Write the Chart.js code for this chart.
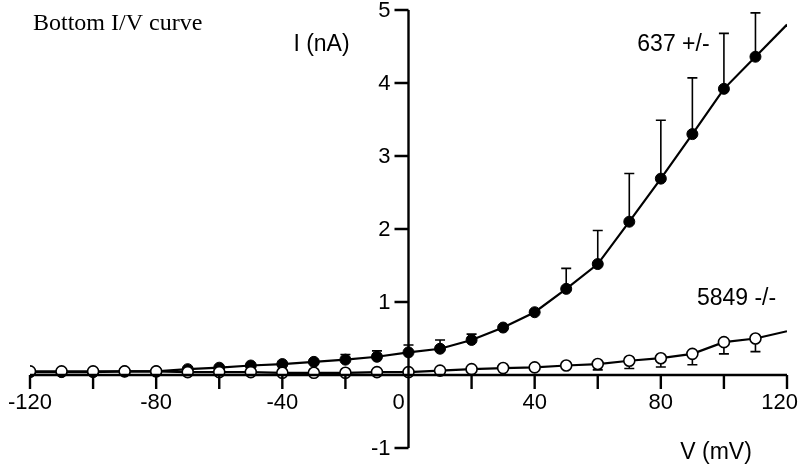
<!DOCTYPE html>
<html><head><meta charset="utf-8">
<script src="https://cdn.jsdelivr.net/npm/chart.js@4/dist/chart.umd.min.js"></script>
<style>html,body{margin:0;padding:0;background:#fff}#wrap{width:800px;height:468px}</style>
</head><body><div id="wrap"><canvas id="c" width="800" height="468"></canvas></div>
<script>
// ---- data ----
const voltage    = [-120,-110,-100,-90,-80,-70,-60,-50,-40,-30,-20,-10,0,10,20,30,40,50,60,70,80,90,100,110];
const currentHet = [0.04,0.04,0.04,0.05,0.05,0.08,0.10,0.13,0.15,0.18,0.21,0.25,0.31,0.36,0.48,0.65,0.86,1.18,1.52,2.10,2.69,3.30,3.92,4.36];
const errorHet   = [0,0,0,0,0,0,0,0,0,0.02,0.07,0.08,0.10,0.12,0.08,0,0,0.28,0.46,0.66,0.80,0.77,0.76,0.60];
const currentKO  = [0.05,0.05,0.05,0.05,0.05,0.04,0.04,0.04,0.03,0.03,0.03,0.04,0.04,0.06,0.08,0.095,0.105,0.13,0.15,0.195,0.23,0.29,0.45,0.50];
const errorKO    = [0,0,0,0,0,0,0,0,0,0,0,0,0,0,0,0,0,0,0.08,0.105,0.12,0.15,0.16,0.18];
const tailV      = [110,120];
const tailHet    = [4.36,4.80];
const tailKO     = [0.50,0.60];
const xTicks     = [-120,-100,-80,-60,-40,-20,0,20,40,60,80,100,120];
const xTickLabels= ['-120','','-80','','-40','','0','','40','','80','','120'];
const yTicks     = [-1,0,1,2,3,4,5];
const yTickLabels= ['-1','','1','2','3','4','5'];
const seriesNames= ['637 +/-','5849 -/-'];

const pts = (xs, ys) => xs.map((v,i)=>({x:v, y:ys[i]}));
const SANS = "'Liberation Sans', Arial, sans-serif";
const SERIF = "'Liberation Serif', 'Times New Roman', serif";

const overlay = {
  id:'overlay',
  afterDatasetsDraw(chart){
    const {ctx, scales:{x,y}} = chart;
    const x0 = x.getPixelForValue(0), y0 = y.getPixelForValue(0);
    ctx.save();
    ctx.strokeStyle = '#000'; ctx.fillStyle = '#000';
    // error bars
    ctx.lineWidth = 1.6;
    const cap = 5, r = 5.5;
    voltage.forEach((v,i)=>{
      const px = x.getPixelForValue(v);
      if (errorHet[i] > 0) {
        const pc = y.getPixelForValue(currentHet[i]);
        const pt = y.getPixelForValue(currentHet[i] + errorHet[i]);
        ctx.beginPath(); ctx.moveTo(px, pc); ctx.lineTo(px, pt);
        ctx.moveTo(px-cap, pt); ctx.lineTo(px+cap, pt); ctx.stroke();
      }
      if (errorKO[i] > 0) {
        const pc = y.getPixelForValue(currentKO[i]);
        const pb = y.getPixelForValue(currentKO[i] - errorKO[i]);
        ctx.beginPath(); ctx.moveTo(px, pc + r); ctx.lineTo(px, pb);
        ctx.moveTo(px-cap, pb); ctx.lineTo(px+cap, pb); ctx.stroke();
      }
    });
    // axes
    ctx.lineWidth = 2.4;
    ctx.beginPath();
    ctx.moveTo(x.getPixelForValue(xTicks[0]), y0); ctx.lineTo(x.getPixelForValue(xTicks[xTicks.length-1]), y0);
    ctx.moveTo(x0, y.getPixelForValue(yTicks[0])); ctx.lineTo(x0, y.getPixelForValue(yTicks[yTicks.length-1]));
    xTicks.forEach(v=>{ const px = x.getPixelForValue(v); ctx.moveTo(px, y0); ctx.lineTo(px, y0+14); });
    yTicks.forEach(v=>{ if (v===0) return; const py = y.getPixelForValue(v); ctx.moveTo(x0-14, py); ctx.lineTo(x0, py); });
    ctx.stroke();
    // tick labels
    ctx.font = '22px ' + SANS;
    ctx.textBaseline = 'middle';
    ctx.textAlign = 'center';
    xTicks.forEach((v,i)=>{
      const t = xTickLabels[i]; if (!t) return;
      let px = x.getPixelForValue(v);
      if (v === 0) px -= 10;
      const w = ctx.measureText(t).width;
      px = Math.max(w/2 + 2, Math.min(chart.width - w/2 - 2, px));
      ctx.fillText(t, px, y0 + 28);
    });
    ctx.textAlign = 'right';
    yTicks.forEach((v,i)=>{
      const t = yTickLabels[i]; if (!t) return;
      ctx.fillText(t, x0 - 18, y.getPixelForValue(v) + 1);
    });
    // axis titles & series labels
    ctx.font = '23px ' + SANS;
    ctx.textAlign = 'center';
    ctx.fillText('I (nA)', x0 - 87, y.getPixelForValue(4.53));
    ctx.fillText('V (mV)', x.getPixelForValue(97.5), y.getPixelForValue(-1.06));
    ctx.fillText(seriesNames[0], x.getPixelForValue(84), y.getPixelForValue(4.52));
    ctx.fillText(seriesNames[1], x.getPixelForValue(104), y.getPixelForValue(1.05));
    ctx.font = '24px ' + SERIF;
    ctx.textAlign = 'left';
    ctx.textBaseline = 'alphabetic';
    ctx.fillText('Bottom I/V curve', 33, 30);
    ctx.restore();
  }
};

new Chart(document.getElementById('c'), {
  type: 'scatter',
  data: {
    datasets: [
      { label: seriesNames[1], data: pts(voltage, currentKO), showLine: true, order: 0,
        borderColor: '#000', borderWidth: 2.2, pointRadius: 5.5, pointBackgroundColor: '#fff',
        pointBorderColor: '#000', pointBorderWidth: 1.6, tension: 0 },
      { label: seriesNames[1] + ' fit', data: pts(tailV, tailKO), showLine: true, order: 2,
        borderColor: '#000', borderWidth: 2.2, pointRadius: 0, tension: 0 },
      { label: seriesNames[0], data: pts(voltage, currentHet), showLine: true, order: 1,
        borderColor: '#000', borderWidth: 2.2, pointRadius: 5.5, pointBackgroundColor: '#000',
        pointBorderColor: '#000', pointBorderWidth: 1, tension: 0 },
      { label: seriesNames[0] + ' fit', data: pts(tailV, tailHet), showLine: true, order: 3,
        borderColor: '#000', borderWidth: 2.2, pointRadius: 0, tension: 0 }
    ]
  },
  options: {
    responsive: false, animation: false,
    layout: { padding: { left: 30, right: 13, top: 10, bottom: 20 } },
    plugins: { legend: { display: false }, tooltip: { enabled: false } },
    scales: {
      x: { type: 'linear', min: -120, max: 120, display: false },
      y: { type: 'linear', min: -1, max: 5, display: false }
    }
  },
  plugins: [overlay]
});
</script></body></html>
